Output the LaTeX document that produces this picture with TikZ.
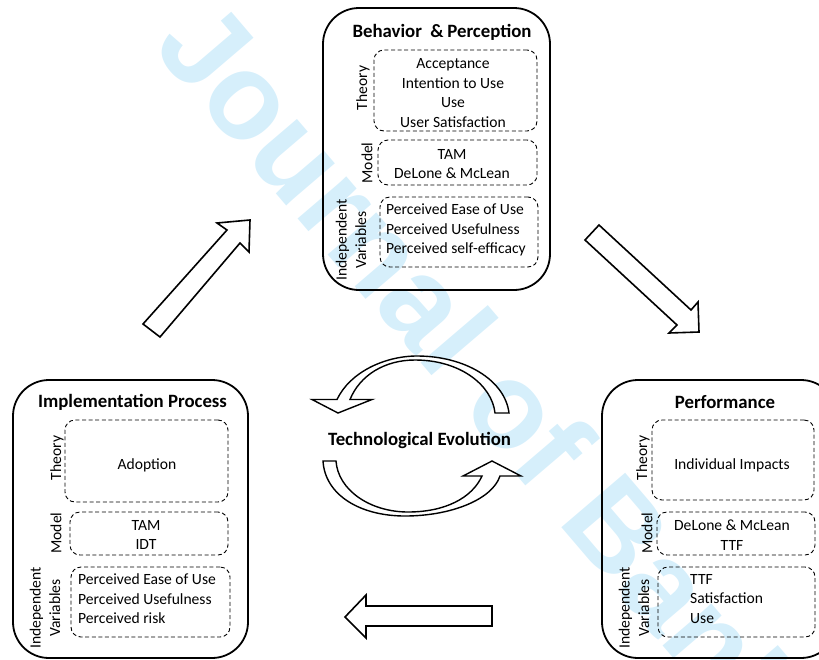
\documentclass[tikz,border=0pt]{standalone}
\usepackage{fontspec}
\setmainfont{Carlito}
\newfontfamily\wmfont{Liberation Sans}
\definecolor{wmblue}{RGB}{214,239,251}
\tikzset{
  outerbox/.style={draw, line width=1.8pt, rounded corners=36pt, minimum width=#1, inner sep=0pt},
  dashbox/.style={draw, line width=0.9pt, dash pattern=on 4pt off 2.6pt, rounded corners=10pt, inner sep=0pt},
  txt/.style={font=\fontsize{15.6}{19.5}\selectfont, align=center, inner sep=0pt},
  ltxt/.style={font=\fontsize{15.6}{19.5}\selectfont, align=left, inner sep=0pt, anchor=west},
  side/.style={font=\fontsize{15.6}{19.5}\selectfont, rotate=90, inner sep=0pt},
  ttl/.style={font=\bfseries\fontsize{18.8}{22}\selectfont, inner sep=0pt},
  blockarrow/.style={draw, line width=1.6pt, fill=white, line join=miter},
  curvearrow/.style={draw, line width=1.4pt, fill=white, line join=miter}
}
\begin{document}
\begin{tikzpicture}[x=1pt,y=1pt]
\useasboundingbox (0,0) rectangle (819,-659);
% watermark
\node[anchor=base west, rotate=-49.5, inner sep=0pt, text=wmblue,
      font=\wmfont\bfseries\fontsize{122}{130}\selectfont] (wm) at (151,-47) {Journal of Banking};

% ---------- Behavior & Perception ----------
\node[outerbox=227pt, minimum height=282pt] (bp) at (436.5,-149) {};
\node[ttl] (bpt) at (442,-32) {Behavior\hspace{0.45em}\&\hspace{0.2em}Perception};
\node[dashbox, minimum width=163pt, minimum height=81pt] (bpT) at (455.5,-90.5) {};
\node[dashbox, minimum width=159pt, minimum height=45pt] (bpM) at (457.5,-162.5) {};
\node[dashbox, minimum width=158pt, minimum height=70pt] (bpV) at (459,-232) {};
\node[txt] (bpTt) at (453,-93) {Acceptance\\Intention to Use\\Use\\User Satisfaction};
\node[txt] (bpMt) at (452,-164) {TAM\\DeLone \& McLean};
\node[ltxt] (bpVt) at (386,-230) {Perceived Ease of Use\\Perceived Usefulness\\Perceived self-efficacy};
\node[side] (bpTs) at (363,-88) {Theory};
\node[side] (bpMs) at (367,-163) {Model};
\node[side, align=center] (bpVs) at (351,-240) {Independent\\Variables};

% ---------- Implementation Process ----------
\node[outerbox=235pt, minimum height=278pt] (ip) at (130.5,-519) {};
\node[ttl] (ipt) at (132.5,-402) {Implementation Process};
\node[dashbox, minimum width=163pt, minimum height=82pt] (ipT) at (146.5,-461) {};
\node[dashbox, minimum width=158pt, minimum height=43pt] (ipM) at (149,-533.5) {};
\node[dashbox, minimum width=159pt, minimum height=70pt] (ipV) at (150.5,-602) {};
\node[txt] (ipTt) at (147,-465) {Adoption};
\node[txt] (ipMt) at (146,-535) {TAM\\IDT};
\node[ltxt] (ipVt) at (78,-599) {Perceived Ease of Use\\Perceived Usefulness\\Perceived risk};
\node[side] (ipTs) at (57,-458) {Theory};
\node[side] (ipMs) at (56,-533) {Model};
\node[side, align=center] (ipVs) at (45,-608) {Independent\\Variables};

% ---------- Performance ----------
\node[outerbox=235pt, minimum height=278pt] (pf) at (719.5,-519) {};
\node[ttl] (pft) at (725,-402) {Performance};
\node[dashbox, minimum width=162pt, minimum height=80pt] (pfT) at (733,-460) {};
\node[dashbox, minimum width=158pt, minimum height=43pt] (pfM) at (736,-533.5) {};
\node[dashbox, minimum width=157pt, minimum height=70pt] (pfV) at (736.5,-602) {};
\node[txt] (pfTt) at (732,-465) {Individual Impacts};
\node[txt] (pfMt) at (732,-535) {DeLone \& McLean\\TTF};
\node[ltxt] (pfVt) at (690,-599) {TTF\\Satisfaction\\Use};
\node[side] (pfTs) at (643,-458) {Theory};
\node[side] (pfMs) at (647,-533) {Model};
\node[side, align=center] (pfVs) at (634,-608) {Independent\\Variables};

% ---------- centre ----------
\node[ttl] (te) at (419.5,-440) {Technological Evolution};

% top curved arrow
\path[curvearrow] (509,-413) .. controls (505,-380) and (465,-356) .. (417,-356)
  .. controls (385,-356) and (350,-372) .. (337,-399.5)
  -- (312,-399.5) -- (338,-413) -- (372,-399.5) -- (350,-399.5)
  .. controls (360,-375) and (385,-360) .. (415,-360)
  .. controls (460,-360) and (492,-385) .. (495,-413) -- cycle;
% bottom curved arrow
\path[curvearrow] (323,-461) .. controls (325,-495) and (360,-516) .. (405,-516)
  .. controls (450,-516) and (492,-500) .. (500,-476)
  -- (521,-476) -- (492,-461) -- (463,-476) -- (482,-476)
  .. controls (472,-498) and (445,-512) .. (408,-512)
  .. controls (370,-512) and (338,-490) .. (336,-461) -- cycle;

% block arrows
\path[blockarrow] (143,-324) -- (227,-230) -- (217,-223) -- (250,-220) -- (249,-252) -- (240,-243) -- (160,-337) -- cycle;
\path[blockarrow] (599,-225) -- (691,-310) -- (698,-302) -- (699,-332) -- (669,-333) -- (677,-325) -- (585,-240) -- cycle;
\path[blockarrow] (345,-617) -- (366,-595) -- (366,-606) -- (492,-606) -- (492,-626) -- (366,-626) -- (366,-638) -- cycle;
\end{tikzpicture}
\end{document}
